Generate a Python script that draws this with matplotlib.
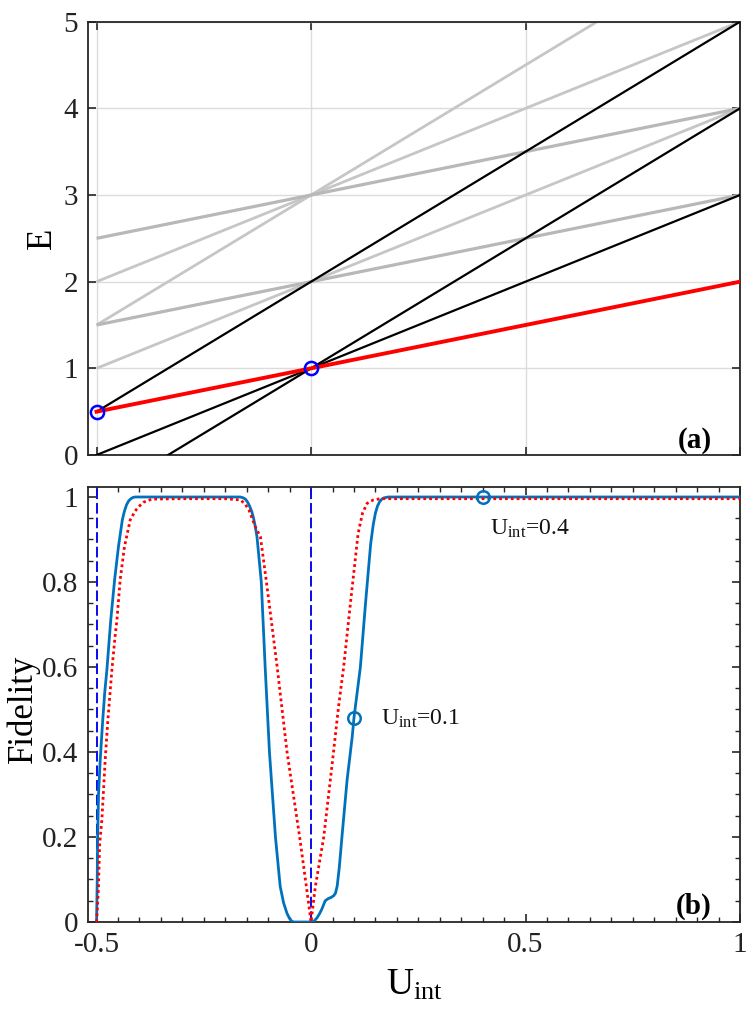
import matplotlib
matplotlib.use('Agg')
import matplotlib.pyplot as plt
from matplotlib.ticker import MultipleLocator
import numpy as np

plt.rcParams['font.family'] = ['Liberation Serif', 'DejaVu Serif']
plt.rcParams['mathtext.fontset'] = 'custom'
plt.rcParams['mathtext.rm'] = 'Liberation Serif'
plt.rcParams['mathtext.it'] = 'Liberation Serif:italic'
plt.rcParams['mathtext.bf'] = 'Liberation Serif:bold'

# ---------------- data: panel (a) energy levels (E at U=-0.5 and U=1) ----------------
u_ends = [-0.5, 1.0]
black_start = [0.0, -0.5, 0.5]
black_end = [3.0, 4.0, 5.0]
gray_start = [1.0, 2.0, 1.5]
gray_end = [4.0, 5.0, 6.0]
gray_deg_start = [1.5, 2.5]
gray_deg_end = [3.0, 4.0]
red_start = [0.5]
red_end = [2.0]
cross_u = [-0.5, 0.0]
cross_e = [0.5, 1.0]

# ---------------- data: panel (b) fidelity ----------------
u_blue = [-0.5, -0.4985, -0.4975, -0.4955, -0.4916, -0.486, -0.481, -0.476, -0.467,
          -0.458, -0.449, -0.44, -0.435, -0.43, -0.425, -0.42, -0.415, -0.41, -0.40,
          -0.3, -0.2, -0.165, -0.158, -0.153, -0.148, -0.143, -0.138, -0.134, -0.13,
          -0.126, -0.116, -0.107, -0.097, -0.083, -0.072, -0.064, -0.056, -0.05,
          -0.045, -0.04, -0.002, 0.004, 0.008, 0.014, 0.02, 0.025, 0.033, 0.04,
          0.047, 0.053, 0.057, 0.061, 0.066, 0.072, 0.084, 0.096, 0.1, 0.115, 0.127,
          0.139, 0.145, 0.15, 0.155, 0.16, 0.165, 0.17, 0.18, 0.19, 0.4, 1.0]
f_blue = [0.0, 0.1, 0.2, 0.3, 0.38, 0.47, 0.54, 0.593, 0.71,
          0.805, 0.883, 0.946, 0.967, 0.982, 0.991, 0.996, 0.999, 1.0, 1.0,
          1.0, 1.0, 1.0, 0.998, 0.995, 0.988, 0.978, 0.965, 0.95, 0.93,
          0.906, 0.8, 0.6, 0.4, 0.2, 0.084, 0.045, 0.02, 0.008,
          0.002, 0.0, 0.0, 0.001, 0.003, 0.01, 0.02, 0.03, 0.05, 0.055,
          0.058, 0.062, 0.068, 0.085, 0.13, 0.2, 0.334, 0.436, 0.48, 0.6, 0.75,
          0.89, 0.935, 0.962, 0.979, 0.989, 0.995, 0.998, 1.0, 1.0, 1.0, 1.0]
u_red = [-0.5, -0.4955, -0.493, -0.4877, -0.48, -0.4737, -0.4643, -0.457, -0.4526,
         -0.445, -0.435, -0.4216, -0.41, -0.402, -0.39, -0.371, -0.3, -0.2, -0.165,
         -0.155, -0.145, -0.13, -0.118, -0.104, -0.079, -0.056, -0.0266, -0.011, 0.0,
         0.0101, 0.0296, 0.049, 0.0645, 0.076, 0.0918, 0.1097, 0.12, 0.1307, 0.145,
         0.162, 1.0]
f_red = [0.0, 0.083, 0.18, 0.24, 0.38, 0.475, 0.593, 0.671, 0.71,
         0.805, 0.883, 0.946, 0.967, 0.977, 0.988, 0.995, 0.996, 0.996, 0.993,
         0.985, 0.97, 0.93, 0.906, 0.8, 0.6, 0.4, 0.2, 0.084, 0.0,
         0.084, 0.2, 0.37, 0.51, 0.6, 0.75, 0.914, 0.962, 0.985, 0.993,
         0.996, 0.996]
dashed_u = [-0.5, 0.0]
mark_u = [0.1, 0.4]
mark_f = [0.48, 1.0]
mark_labels = [r'U$_{\mathrm{int}}$=0.1', r'U$_{\mathrm{int}}$=0.4']
mark_text_u = [0.162, 0.418]
mark_text_f = [0.4635, 0.911]

# ---------------- figure ----------------
fig = plt.figure(figsize=(7.47, 10.17), dpi=100)
L, W = 88 / 747, 652 / 747
ax1 = fig.add_axes([L, 1 - 455 / 1017, W, 433.3 / 1017])
ax2 = fig.add_axes([L, 1 - 922 / 1017, W, 435 / 1017])

spine_c = '#262626'
for ax in (ax1, ax2):
    for s in ax.spines.values():
        s.set_color(spine_c)
        s.set_linewidth(1.3)
    ax.tick_params(which='both', direction='in', top=True, right=True,
                   colors=spine_c, labelcolor='#222222', labelsize=21, pad=7)
    ax.tick_params(which='major', length=6, width=1.2)
    ax.tick_params(which='minor', length=3.5, width=1.0)

# panel (a)
ax1.set_xlim(-0.52, 1.0)
ax1.set_ylim(0, 5)
ax1.set_xticks([-0.5, 0, 0.5, 1.0])
ax1.set_yticks([0, 1, 2, 3, 4, 5])
ax1.tick_params(labelbottom=False)
ax1.grid(True, color='#dcdcdc', linewidth=1.0)
ax1.set_axisbelow(True)

for a, b in zip(gray_start, gray_end):
    ax1.plot(u_ends, [a, b], color='#c6c6c6', lw=2.0, solid_capstyle='butt', zorder=2)
for a, b in zip(gray_deg_start, gray_deg_end):
    ax1.plot(u_ends, [a, b], color='#b8b8b8', lw=2.3, solid_capstyle='butt', zorder=2)
for a, b in zip(black_start, black_end):
    ax1.plot(u_ends, [a, b], color='black', lw=1.6, zorder=3)
for a, b in zip(red_start, red_end):
    ax1.plot(u_ends, [a, b], color='#ff0000', lw=2.8, zorder=4)
ax1.plot(cross_u, cross_e, linestyle='none', marker='o', markersize=9.5,
         markerfacecolor='none', markeredgecolor='#0000ff', markeredgewidth=1.8,
         zorder=5, clip_on=False)
ax1.set_ylabel('E', fontsize=25, va='center')
ax1.yaxis.set_label_coords(-0.0706, 0.5)
ax1.text(0.957, 0.016, '(a)', transform=ax1.transAxes, ha='right', va='baseline',
         fontsize=21, fontweight='bold')

# panel (b)
ax2.set_xlim(-0.52, 1.0)
ax2.set_ylim(0, 1.0235)
ax2.xaxis.set_major_locator(MultipleLocator(0.5))
ax2.xaxis.set_minor_locator(MultipleLocator(0.05))
ax2.yaxis.set_major_locator(MultipleLocator(0.2))
ax2.yaxis.set_minor_locator(MultipleLocator(0.05))
ax2.set_xticks([-0.5, 0, 0.5, 1.0])
ax2.set_xticklabels(['-0.5', '0', '0.5', '1'])
ax2.set_yticks([0, 0.2, 0.4, 0.6, 0.8, 1.0])
ax2.set_yticklabels(['0', '0.2', '0.4', '0.6', '0.8', '1'])

for u in dashed_u:
    ax2.axvline(u, color='#0a0aee', lw=1.4, dashes=(5.5, 2.0), zorder=2)
ax2.plot(u_blue, f_blue, color='#0072BD', lw=2.0, zorder=3)
ax2.plot(u_red, f_red, color='#ff0000', lw=2.0, linestyle=(0, (1, 1.1)), zorder=4)
ax2.plot(mark_u, mark_f, linestyle='none', marker='o', markersize=9,
         markerfacecolor='none', markeredgecolor='#0072BD', markeredgewidth=1.8,
         zorder=5)
for tu, tf, lab in zip(mark_text_u, mark_text_f, mark_labels):
    ax2.text(tu, tf, lab, fontsize=17, ha='left', va='baseline', color='#111111')

ax2.set_ylabel('Fidelity', fontsize=25, va='center')
ax2.yaxis.set_label_coords(-0.1, 0.49)
ax2.set_xlabel(r'U$_{\mathrm{int}}$', fontsize=27, va='top')
ax2.xaxis.set_label_coords(0.5, -0.105)
ax2.text(0.957, 0.02, '(b)', transform=ax2.transAxes, ha='right', va='baseline',
         fontsize=21, fontweight='bold')

fig.savefig('out.png', dpi=100)
